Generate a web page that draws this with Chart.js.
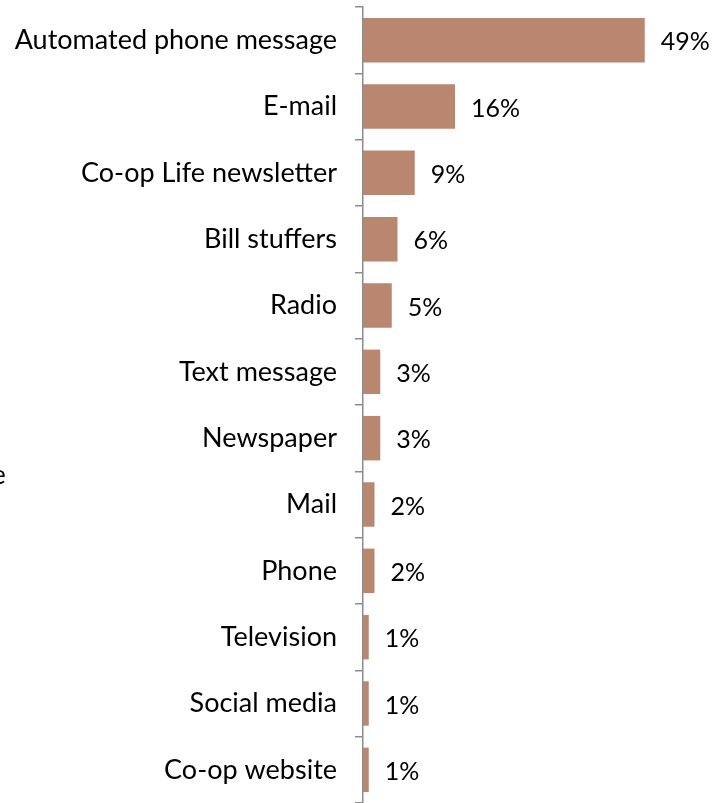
<!DOCTYPE html>
<html>
<head>
<meta charset="utf-8">
<script src="https://cdn.jsdelivr.net/npm/chart.js@4"></script>
<style>
  html, body { margin: 0; padding: 0; background: #fff; }
  #wrap { width: 716px; height: 803px; position: relative; }
</style>
</head>
<body>
<div id="wrap"><canvas id="chart"></canvas></div>
<script>
var channels = ['Automated phone message', 'E-mail', 'Co-op Life newsletter', 'Bill stuffers',
  'Radio', 'Text message', 'Newspaper', 'Mail', 'Phone', 'Television', 'Social media', 'Co-op website'];
var shares = [49, 16, 9, 6, 5, 3, 3, 2, 2, 1, 1, 1];

var FONT = "Lato, 'Open Sans', sans-serif";

// value labels to the right of each bar, plus the clipped text at the left edge
var barLabels = {
  id: 'barLabels',
  afterDatasetsDraw: function(chart) {
    var ctx = chart.ctx;
    var meta = chart.getDatasetMeta(0);
    ctx.save();
    ctx.font = '25px ' + FONT;
    ctx.fillStyle = '#000';
    ctx.textBaseline = 'middle';
    ctx.textAlign = 'left';
    meta.data.forEach(function(bar, i) {
      ctx.fillText(shares[i] + '%', bar.x + 16, bar.y + 2);
    });
    ctx.font = '26px ' + FONT;
    ctx.textBaseline = 'alphabetic';
    ctx.fillText('e', -8, 484);
    ctx.restore();
  }
};

new Chart(document.getElementById('chart'), {
  type: 'bar',
  data: {
    labels: channels,
    datasets: [{
      data: shares,
      backgroundColor: '#B98670',
      borderWidth: 0,
      barPercentage: 0.67,
      categoryPercentage: 1
    }]
  },
  options: {
    indexAxis: 'y',
    responsive: true,
    maintainAspectRatio: false,
    animation: false,
    layout: { padding: { top: 7, right: 8, bottom: 0, left: 0 } },
    plugins: {
      legend: { display: false },
      tooltip: { enabled: false }
    },
    scales: {
      x: {
        display: false,
        min: 0,
        max: 60
      },
      y: {
        offset: true,
        afterFit: function(scale) {
          // fixed axis column, no extra room above/below for labels
          scale.width = 363;
          scale.paddingTop = 0;
          scale.paddingBottom = 0;
        },
        grid: {
          offset: true,
          drawOnChartArea: false,
          tickLength: 8,
          color: '#8c8c8c',
          lineWidth: 1.5
        },
        border: { display: true, color: '#8c8c8c', width: 1.5 },
        ticks: {
          color: '#000',
          padding: 18,
          font: { family: FONT, size: 27 }
        }
      }
    }
  },
  plugins: [barLabels]
});
</script>
</body>
</html>
